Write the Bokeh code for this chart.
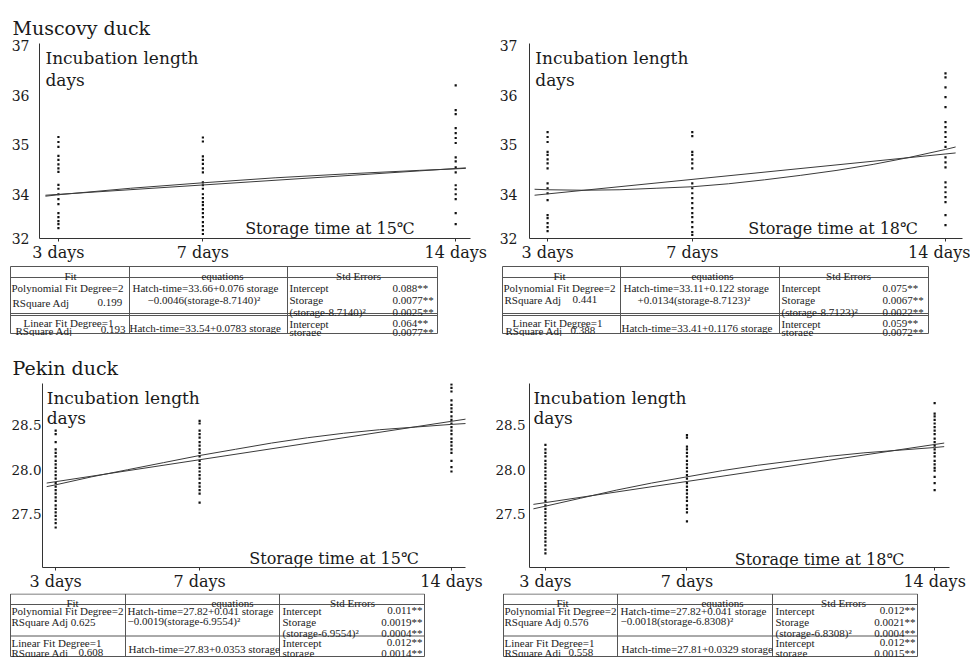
from bokeh.plotting import figure
from bokeh.models import Range1d, FixedTicker, Label
from bokeh.layouts import column, row
from bokeh.embed import file_html
from bokeh.resources import INLINE
from bokeh.core.properties import value

# ------------------------------------------------------------------ data
STORAGE_DAYS = [3, 7, 14]
STORAGE_LABELS = ["3 days", "7 days", "14 days"]
MUSC_Y_TICKS = [33.13, 34, 35, 36, 37]
MUSC_Y_LABELS = ["32", "34", "35", "36", "37"]
PEKIN_Y_TICKS = [27.5, 28.0, 28.5]
PEKIN_Y_LABELS = ["27.5", "28.0", "28.5"]

# Muscovy duck, storage at 15 C (incubation length, days)
m15_day3 = [35.16, 35.06, 34.96, 34.78, 34.70, 34.61, 34.53, 34.46, 34.20, 34.12,
            34.01, 33.91, 33.81, 33.63, 33.55, 33.47, 33.41, 33.33]
m15_day7 = [35.15, 35.07, 34.77, 34.70, 34.62, 34.53, 34.45, 34.25, 34.19, 34.12,
            34.01, 33.93, 33.85, 33.79, 33.71, 33.63, 33.55, 33.45, 33.37, 33.29, 33.21]
m15_day14 = [36.20, 35.70, 35.62, 35.34, 35.24, 35.14, 35.04, 34.75, 34.67, 34.55,
             34.45, 34.19, 34.11, 34.01, 33.91, 33.63, 33.41]
m15_lin_x = [2.64, 14.28]
m15_lin_y = [33.99, 34.54]
m15_poly_x = [2.64, 3, 5, 7, 9, 11, 13, 14, 14.28]
m15_poly_y = [33.97, 34.00, 34.13, 34.24, 34.34, 34.42, 34.49, 34.52, 34.53]

# Muscovy duck, storage at 18 C
m18_day3 = [35.26, 35.16, 35.06, 34.86, 34.80, 34.71, 34.63, 34.53, 34.23, 34.13,
            34.03, 33.89, 33.59, 33.53, 33.43, 33.35, 33.27]
m18_day7 = [35.26, 35.18, 34.86, 34.80, 34.71, 34.63, 34.53, 34.23, 34.13, 34.03,
            33.93, 33.83, 33.73, 33.63, 33.55, 33.45, 33.35, 33.25, 33.19]
m18_day14 = [36.44, 36.36, 36.16, 35.96, 35.76, 35.46, 35.36, 35.26, 35.16, 35.06,
             34.96, 34.75, 34.65, 34.55, 34.25, 34.15, 34.05, 33.95, 33.85, 33.59, 33.39]
m18_lin_x = [2.64, 14.28]
m18_lin_y = [33.99, 34.84]
m18_poly_x = [2.64, 3, 4, 5, 6, 7, 8, 9, 10, 11, 12, 13, 14, 14.28]
m18_poly_y = [34.11, 34.10, 34.09, 34.10, 34.13, 34.16, 34.22, 34.30, 34.39, 34.49,
              34.61, 34.75, 34.91, 34.96]

# Pekin duck, storage at 15 C
p15_day3 = [28.44, 28.40, 28.31, 28.23, 28.19, 28.15, 28.10, 28.06, 28.02, 27.98,
            27.94, 27.90, 27.85, 27.81, 27.77, 27.73, 27.69, 27.65, 27.60, 27.56,
            27.52, 27.48, 27.44, 27.40, 27.35]
p15_day7 = [28.55, 28.52, 28.44, 28.40, 28.36, 28.31, 28.27, 28.23, 28.19, 28.15,
            28.10, 28.06, 28.02, 27.98, 27.94, 27.90, 27.85, 27.81, 27.77, 27.73, 27.63]
p15_day14 = [28.96, 28.92, 28.88, 28.78, 28.73, 28.69, 28.65, 28.60, 28.56, 28.52,
             28.48, 28.44, 28.40, 28.35, 28.31, 28.27, 28.23, 28.19, 28.10, 28.03, 27.98]
p15_lin_x = [2.75, 14.41]
p15_lin_y = [27.85, 28.57]
p15_poly_x = [2.75, 3, 4, 5, 6, 7, 8, 9, 10, 11, 12, 13, 14, 14.41]
p15_poly_y = [27.81, 27.83, 27.92, 28.00, 28.08, 28.16, 28.23, 28.30, 28.36, 28.41,
              28.45, 28.48, 28.51, 28.52]

# Pekin duck, storage at 18 C
p18_day3 = [28.28, 28.23, 28.19, 28.15, 28.10, 28.06, 28.02, 27.98, 27.94, 27.90,
            27.85, 27.81, 27.77, 27.73, 27.69, 27.65, 27.60, 27.56, 27.52, 27.48,
            27.44, 27.40, 27.35, 27.31, 27.27, 27.23, 27.19, 27.15, 27.10, 27.06]
p18_day7 = [28.39, 28.36, 28.26, 28.23, 28.19, 28.15, 28.10, 28.06, 28.02, 27.98,
            27.94, 27.90, 27.85, 27.81, 27.77, 27.73, 27.69, 27.65, 27.60, 27.56,
            27.52, 27.42]
p18_day14 = [28.75, 28.63, 28.60, 28.56, 28.52, 28.48, 28.44, 28.40, 28.35, 28.31,
             28.27, 28.23, 28.19, 28.15, 28.10, 28.06, 28.02, 27.99, 27.92, 27.85, 27.77]
p18_lin_x = [2.66, 14.27]
p18_lin_y = [27.61, 28.30]
p18_poly_x = [2.66, 3, 4, 5, 6, 7, 8, 9, 10, 11, 12, 13, 14, 14.27]
p18_poly_y = [27.56, 27.59, 27.68, 27.77, 27.85, 27.92, 27.99, 28.05, 28.10, 28.15,
              28.19, 28.22, 28.25, 28.26]

# Table texts
TABLE_HEADERS = ["Fit", "equations", "Std Errors"]

t1_fit = ["Polynomial Fit Degree=2", "RSquare Adj", "0.199", "Linear Fit Degree=1", "RSquare Adj", "0.193"]
t1_eq = ["Hatch-time=33.66+0.076 storage", "\u22120.0046(storage-8.7140)\u00b2", "Hatch-time=33.54+0.0783  storage"]
t1_terms = ["Intercept", "Storage", "(storage-8.7140)\u00b2", "Intercept", "storage"]
t1_vals = ["0.088**", "0.0077**", "0.0025**", "0.064**", "0.0077**"]

t2_fit = ["Polynomial Fit Degree=2", "RSquare Adj", "0.441", "Linear Fit Degree=1", "RSquare Adj", "0.388"]
t2_eq = ["Hatch-time=33.11+0.122 storage", "+0.0134(storage-8.7123)\u00b2", "Hatch-time=33.41+0.1176  storage"]
t2_terms = ["Intercept", "Storage", "(storage-8.7123)\u00b2", "Intercept", "storage"]
t2_vals = ["0.075**", "0.0067**", "0.0022**", "0.059**", "0.0072**"]

t3_fit = ["Polynomial Fit Degree=2", "RSquare Adj 0.625", "", "Linear Fit Degree=1", "RSquare Adj", "0.608"]
t3_eq = ["Hatch-time=27.82+0.041  storage", "\u22120.0019(storage-6.9554)\u00b2", "Hatch-time=27.83+0.0353 storage"]
t3_terms = ["Intercept", "Storage", "(storage-6.9554)\u00b2", "Intercept", "storage"]
t3_vals = ["0.011**", "0.0019**", "0.0004**", "0.012**", "0.0014**"]

t4_fit = ["Polynomial Fit Degree=2", "RSquare Adj 0.576", "", "Linear Fit Degree=1", "RSquare Adj", "0.558"]
t4_eq = ["Hatch-time=27.82+0.041  storage", "\u22120.0018(storage-6.8308)\u00b2", "Hatch-time=27.81+0.0329 storage"]
t4_terms = ["Intercept", "Storage", "(storage-6.8308)\u00b2", "Intercept", "storage"]
t4_vals = ["0.012**", "0.0021**", "0.0004**", "0.012**", "0.0015**"]

# ------------------------------------------------------------------ styling
SERIF = "DejaVu Serif"
TSERIF = "Liberation Serif"
INK = "#1a1a1a"


def make_plot(w, h, borders, xr, yr, yticks, ylabels, ysize, ystand, dots, lines,
              inc_x, inc_dy, stor_text, stor_x, stor_dy, title=None, title_offset=0,
              title_standoff=10):
    bl, br, bt, bb = borders
    p = figure(width=w, height=h, x_range=Range1d(*xr), y_range=Range1d(*yr),
               toolbar_location=None, output_backend="svg", title=title,
               min_border_left=bl, min_border_right=br, min_border_top=bt,
               min_border_bottom=bb)
    if title:
        p.title.text_font = SERIF
        p.title.text_font_size = "19px"
        p.title.text_font_style = "normal"
        p.title.text_color = INK
        p.title.offset = title_offset
        p.title.standoff = title_standoff
    p.outline_line_color = None
    p.grid.visible = False
    p.background_fill_color = "white"
    p.border_fill_color = "white"

    xs, ys = [], []
    for d, vals in zip(STORAGE_DAYS, dots):
        xs += [d] * len(vals)
        ys += vals
    p.scatter(xs, ys, marker="square", size=2.2, fill_color="#111", line_color=None)
    for lx, ly in lines:
        p.line(lx, ly, line_color="#3a3a3a", line_width=1)

    p.xaxis.ticker = FixedTicker(ticks=STORAGE_DAYS)
    p.xaxis.major_label_overrides = dict(zip(STORAGE_DAYS, STORAGE_LABELS))
    p.xaxis.major_tick_in = 0
    p.xaxis.major_tick_out = 3
    p.xaxis.minor_tick_out = 0
    p.xaxis.minor_tick_in = 0
    p.xaxis.major_label_standoff = 1
    p.xaxis.major_label_text_font = SERIF
    p.xaxis.major_label_text_font_size = "16px"

    p.yaxis.ticker = FixedTicker(ticks=yticks)
    p.yaxis.major_label_overrides = dict(zip(yticks, ylabels))
    p.yaxis.major_tick_in = 0
    p.yaxis.major_tick_out = 0
    p.yaxis.minor_tick_out = 0
    p.yaxis.minor_tick_in = 0
    p.yaxis.major_label_standoff = ystand
    p.yaxis.major_label_text_font = SERIF
    p.yaxis.major_label_text_font_size = ysize

    for ax in (p.xaxis, p.yaxis):
        ax.axis_line_color = "#333333"
        ax.axis_line_width = 1
        ax.major_tick_line_color = "#333333"
        ax.major_label_text_color = INK

    p.add_layout(Label(x=inc_x, y=yr[1], y_offset=inc_dy[0], text="Incubation length",
                       text_font=SERIF, text_font_size="17px", text_color=INK,
                       text_baseline="alphabetic"))
    p.add_layout(Label(x=inc_x, y=yr[1], y_offset=inc_dy[1], text="days",
                       text_font=SERIF, text_font_size="17px", text_color=INK,
                       text_baseline="alphabetic"))
    p.add_layout(Label(x=stor_x, y=yr[0], y_offset=stor_dy, text=stor_text,
                       text_font=SERIF, text_font_size="16px", text_color=INK,
                       text_baseline="alphabetic"))
    return p


def make_table(w, h, vx, hy, head_xy, fit_xy, eq_xy, term_x, term_y, val_x, val_y,
               val_align, fit_texts, eq_texts, terms, vals):
    p = figure(width=w, height=h, x_range=Range1d(0, w), y_range=Range1d(h, 0),
               toolbar_location=None, output_backend="svg", min_border=0,
               x_axis_location=None, y_axis_location=None)
    p.outline_line_color = None
    p.grid.visible = False
    p.background_fill_color = "white"
    p.border_fill_color = "white"
    # rules
    p.segment(x0=[vx[0]] * len(hy), y0=hy, x1=[vx[-1]] * len(hy), y1=hy,
              line_color="#555555", line_width=1)
    p.segment(x0=vx, y0=[hy[0]] * len(vx), x1=vx, y1=[hy[-1]] * len(vx),
              line_color="#555555", line_width=1)

    common = dict(text_font=value(TSERIF), text_font_size="11px", text_color="#222222",
                  text_baseline="alphabetic")
    p.text(x=[q[0] for q in head_xy], y=[q[1] for q in head_xy], text=TABLE_HEADERS,
           text_align="center", **common)
    lx, ly, lt, rx, ry, rt = [], [], [], [], [], []
    for (x, y, al), t in zip(fit_xy, fit_texts):
        if not t:
            continue
        if al == "right":
            rx.append(x); ry.append(y); rt.append(t)
        else:
            lx.append(x); ly.append(y); lt.append(t)
    for (x, y), t in zip(eq_xy, eq_texts):
        lx.append(x); ly.append(y); lt.append(t)
    for y, t in zip(term_y, terms):
        lx.append(term_x); ly.append(y); lt.append(t)
    for y, t in zip(val_y, vals):
        if val_align == "right":
            rx.append(val_x); ry.append(y); rt.append(t)
        else:
            lx.append(val_x); ly.append(y); lt.append(t)
    p.text(x=lx, y=ly, text=lt, text_align="left", **common)
    if rt:
        p.text(x=rx, y=ry, text=rt, text_align="right", **common)
    return p


# ------------------------------------------------------------------ figures
m15 = make_plot(482, 256, (29, 20, 35, 26), (2.476, 14.41), (33.12, 37.04),
                MUSC_Y_TICKS, MUSC_Y_LABELS, "14px", 10,
                [m15_day3, m15_day7, m15_day14],
                [(m15_lin_x, m15_lin_y), (m15_poly_x, m15_poly_y)],
                2.64, (-14, -36), "Storage time at 15\u2103", 8.17, 10,
                title="Muscovy duck", title_offset=-27, title_standoff=10)

m18 = make_plot(480, 256, (39, 8, 35, 26), (2.50, 14.47), (33.12, 37.04),
                MUSC_Y_TICKS, MUSC_Y_LABELS, "14px", 12,
                [m18_day3, m18_day7, m18_day14],
                [(m18_lin_x, m18_lin_y), (m18_poly_x, m18_poly_y)],
                2.66, (-14, -36), "Storage time at 18\u2103", 8.55, 10)

p15 = make_plot(482, 257, (31, 25, 47, 21), (2.634, 14.39), (26.90, 28.97),
                PEKIN_Y_TICKS, PEKIN_Y_LABELS, "13.5px", 1,
                [p15_day3, p15_day7, p15_day14],
                [(p15_lin_x, p15_lin_y), (p15_poly_x, p15_poly_y)],
                2.75, (-14, -34), "Storage time at 15\u2103", 8.38, 9,
                title="Pekin duck", title_offset=-30, title_standoff=9)

p18 = make_plot(480, 257, (39, 21, 47, 21), (2.55, 14.42), (26.90, 28.97),
                PEKIN_Y_TICKS, PEKIN_Y_LABELS, "13.5px", 4,
                [p18_day3, p18_day7, p18_day14],
                [(p18_lin_x, p18_lin_y), (p18_poly_x, p18_poly_y)],
                2.66, (-14, -34), "Storage time at 18\u2103", 8.35, 8)

fit_pos_top1 = [(3, 23, "left"), (4, 38, "left"), (89, 38, "left"),
                (15, 58, "left"), (7, 66, "left"), (117, 65, "right")]
t1 = make_table(482, 72, [2, 121, 279, 429], [2, 13, 49, 51, 69],
                [(62, 11), (214, 11), (350, 11)], fit_pos_top1,
                [(124, 23), (139, 35), (121, 63)],
                281, [23, 35, 47, 59, 67], 384, [23, 35, 47.5, 58, 67], "left",
                t1_fit, t1_eq, t1_terms, t1_vals)

fit_pos_top2 = [(13, 23, "left"), (14, 35, "left"), (82, 35, "left"),
                (22, 58, "left"), (15, 66, "left"), (80, 66, "left")]
t2 = make_table(480, 72, [12, 130, 289, 438], [2, 13, 49, 51, 69],
                [(69, 11), (222, 11), (358, 11)], fit_pos_top2,
                [(133, 23), (147, 35), (131, 63)],
                291, [23, 35, 47, 59, 67], 392, [23, 35, 47.5, 58, 67], "left",
                t2_fit, t2_eq, t2_terms, t2_vals)

fit_pos_bot3 = [(3, 17, "left"), (3, 28, "left"), (0, 0, "left"),
                (3, 49, "left"), (3, 59, "left"), (70, 59, "left")]
t3 = make_table(482, 64, [2, 117, 271, 416], [0.5, 11, 42.5, 63],
                [(64, 9.5), (224, 9.5), (344, 9.5)], fit_pos_bot3,
                [(119, 17), (119, 27), (120, 55)],
                274, [17, 28, 39, 49, 59], 414, [16.5, 28, 39, 48.5, 59], "right",
                t3_fit, t3_eq, t3_terms, t3_vals)

fit_pos_bot4 = [(14, 17, "left"), (14, 28, "left"), (0, 0, "left"),
                (14, 49, "left"), (14, 59, "left"), (78, 59, "left")]
t4 = make_table(480, 64, [13, 127, 282, 427], [0.5, 11, 42.5, 63],
                [(72, 9.5), (232, 9.5), (353, 9.5)], fit_pos_bot4,
                [(130, 17), (130, 27), (131, 55)],
                285, [17, 28, 39, 49, 59], 425, [16.5, 28, 39, 48.5, 59], "right",
                t4_fit, t4_eq, t4_terms, t4_vals)

layout = column(row(m15, m18), row(t1, t2), row(p15, p18), row(t3, t4),
                margin=(8, 0, 0, 8))

open("out.html", "w").write(file_html(layout, INLINE))
